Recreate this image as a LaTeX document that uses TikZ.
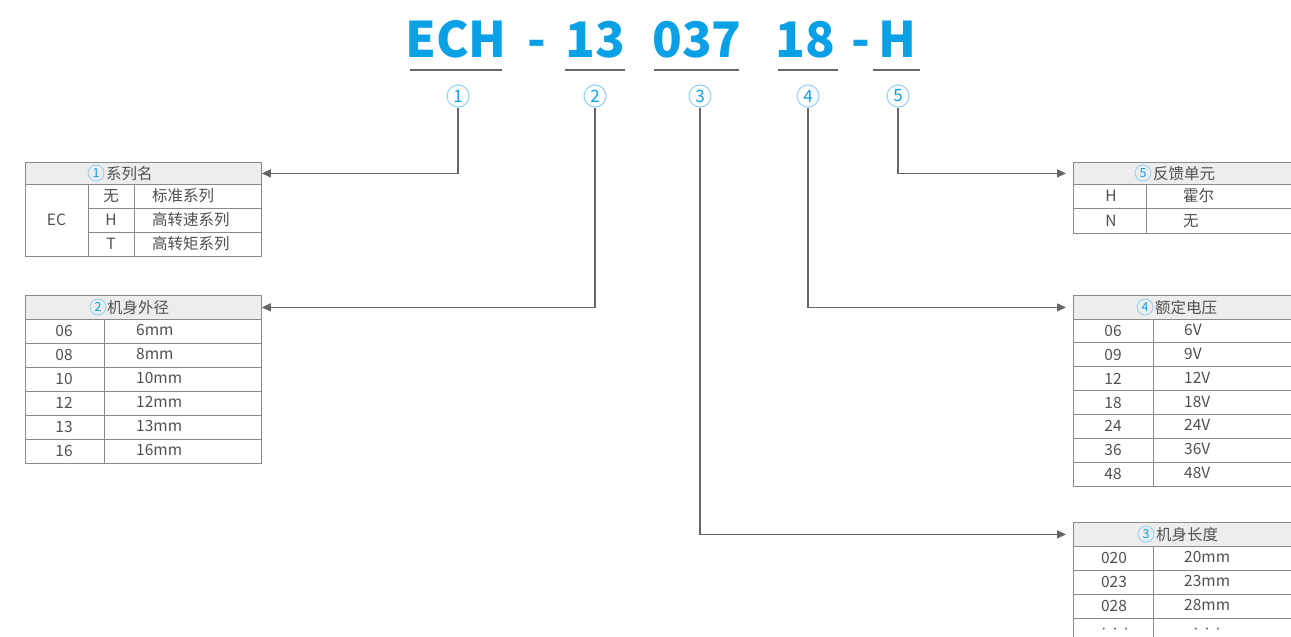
\documentclass[tikz,border=0pt]{standalone}
\usepackage{fontspec}
\setmainfont{Noto Sans CJK SC}
\usetikzlibrary{arrows.meta}
\definecolor{brand}{HTML}{0AA0E6}
\definecolor{ring}{HTML}{8ED0F2}
\definecolor{grid}{HTML}{8A8A8A}
\definecolor{ink}{HTML}{505050}
\definecolor{wire}{HTML}{666666}
\definecolor{headfill}{HTML}{EDEDED}

\begin{document}
\begin{tikzpicture}[x=1pt,y=-1pt,
  code/.style={font=\fontsize{49}{49}\selectfont\bfseries, text=brand, inner sep=0pt, anchor=base},
  uline/.style={draw=wire, line width=2pt},
  circ/.style={circle, draw=ring, line width=1pt, minimum size=22pt, inner sep=0pt, text=brand, font=\fontsize{17}{17}\selectfont},
  hcirc/.style={circle, draw=ring, line width=0.8pt, minimum size=16pt, inner sep=0pt, text=brand, font=\fontsize{12.5}{12.5}\selectfont},
  head/.style={draw=grid, fill=headfill, line width=0.8pt, minimum height=22pt, inner sep=0pt, anchor=north west},
  gridline/.style={draw=grid, line width=0.8pt},
  celltext/.style={text=ink, font=\fontsize{15.5}{15.5}\selectfont, inner sep=0pt},
  dots/.style={text=ink, font=\fontsize{9}{9}\selectfont, inner sep=0pt, anchor=base},
  headtext/.style={text=ink, font=\fontsize{15.5}{15.5}\selectfont, inner sep=0pt, anchor=base west},
  wirel/.style={draw=wire, line width=1.5pt, -{Triangle[length=9pt,width=8pt]}},
]
\useasboundingbox (0,0) rectangle (1291,637);
\clip (0,0) rectangle (1291,637);
\fill[white] (0,0) rectangle (1291,637);

% ---- model code ----
\node[code] (p1) at (456,57) {ECH};
\node[code] (d1) at (537,57) {-};
\node[code] (p2) at (595,57) {13};
\node[code] (p3) at (697,57) {037};
\node[code] (p4) at (805,57) {18};
\node[code] (d2) at (861,57) {-};
\node[code] (p5) at (897,57) {H};

\draw[uline] (410,70) -- (502,70);
\draw[uline] (565,70) -- (625,70);
\draw[uline] (654,70) -- (739,70);
\draw[uline] (778,70) -- (838,70);
\draw[uline] (873,70) -- (920,70);

\node[circ] (c1) at (458,96) {1};
\node[circ] (c2) at (595,96) {2};
\node[circ] (c3) at (700,96) {3};
\node[circ] (c4) at (808,96) {4};
\node[circ] (c5) at (898,96) {5};

% ---- table 1: series ----
\node[head, minimum width=236pt] (h1) at (25,162) {};
\node[hcirc] (h1n) at (96,173) {1};
\node[headtext] (h1t) at (106,179) {系列名};
\draw[gridline] (25,184) rectangle (261,256);
\draw[gridline] (88,184) -- (88,256) (134,184) -- (134,256);
\draw[gridline] (88,208) -- (261,208) (88,232) -- (261,232);
\node[celltext, anchor=base] (t1a) at (56.5,225.5) {EC};
\node[celltext, anchor=base] (t1b) at (111,201.5) {无};
\node[celltext, anchor=base] (t1c) at (111,225.5) {H};
\node[celltext, anchor=base] (t1d) at (111,249.5) {T};
\node[celltext, anchor=base west] (t1e) at (152,201.5) {标准系列};
\node[celltext, anchor=base west] (t1f) at (152,225.5) {高转速系列};
\node[celltext, anchor=base west] (t1g) at (152,249.5) {高转矩系列};

% ---- table 2: body diameter ----
\node[head, minimum width=236pt, minimum height=24pt] (h2) at (25,295) {};
\node[hcirc] (h2n) at (98,307) {2};
\node[headtext] (h2t) at (107,313) {机身外径};
\draw[gridline] (25,319) rectangle (261,463);
\draw[gridline] (104,319) -- (104,463);
\foreach \yy in {343,367,391,415,439}
  \draw[gridline] (25,\yy) -- (261,\yy);
\foreach \k/\a/\b in {0/06/6mm,1/08/8mm,2/10/10mm,3/12/12mm,4/13/13mm,5/16/16mm}{
  \node[celltext, anchor=base] at (64,336.5+24*\k) {\a};
  \node[celltext, anchor=base west] at (136,335.5+24*\k) {\b};
}

% ---- table 5: feedback ----
\node[head, minimum width=240pt] (h5) at (1073,162) {};
\node[hcirc] (h5n) at (1143,173) {5};
\node[headtext] (h5t) at (1153,179) {反馈单元};
\draw[gridline] (1073,184) -- (1073,233) -- (1300,233);
\draw[gridline] (1073,208) -- (1300,208);
\draw[gridline] (1146,184) -- (1146,233);
\node[celltext, anchor=base] (t5a) at (1111,201.5) {H};
\node[celltext, anchor=base] (t5b) at (1111,226) {N};
\node[celltext, anchor=base west] (t5c) at (1183,201.5) {霍尔};
\node[celltext, anchor=base west] (t5d) at (1183,226) {无};

% ---- table 4: rated voltage ----
\node[head, minimum width=240pt, minimum height=24pt] (h4) at (1073,295) {};
\node[hcirc] (h4n) at (1145,307) {4};
\node[headtext] (h4t) at (1155,313) {额定电压};
\draw[gridline] (1073,319) -- (1073,486) -- (1300,486);
\draw[gridline] (1153,319) -- (1153,486);
\foreach \k in {1,...,6}
  \draw[gridline] (1073,319+23.86*\k) -- (1300,319+23.86*\k);
\foreach \k/\a/\b in {0/06/6V,1/09/9V,2/12/12V,3/18/18V,4/24/24V,5/36/36V,6/48/48V}{
  \node[celltext, anchor=base] at (1113,336.5+23.86*\k) {\a};
  \node[celltext, anchor=base west] at (1184,335.5+23.86*\k) {\b};
}

% ---- table 3: body length ----
\node[head, minimum width=240pt, minimum height=24pt] (h3) at (1073,522) {};
\node[hcirc] (h3n) at (1146,534) {3};
\node[headtext] (h3t) at (1156,540) {机身长度};
\draw[gridline] (1073,546) -- (1073,640);
\draw[gridline] (1153,546) -- (1153,640);
\foreach \yy in {570,594,618}
  \draw[gridline] (1073,\yy) -- (1300,\yy);
\foreach \k/\a/\b in {0/020/20mm,1/023/23mm,2/028/28mm}{
  \node[celltext, anchor=base] at (1114,563.5+24*\k) {\a};
  \node[celltext, anchor=base west] at (1184,562.5+24*\k) {\b};
}
\node[dots] (t3d) at (1115,632) {· · ·};
\node[dots] (t3e) at (1207,632) {· · ·};

% ---- connectors ----
\draw[wirel] (c1.south) |- (h1.east);
\draw[wirel] (c2.south) |- (h2.east);
\draw[wirel, shorten >=7pt] (c5.south) |- (h5.west);
\draw[wirel, shorten >=7pt] (c4.south) |- (h4.west);
\draw[wirel, shorten >=7pt] (c3.south) |- (h3.west);
\end{tikzpicture}
\end{document}
